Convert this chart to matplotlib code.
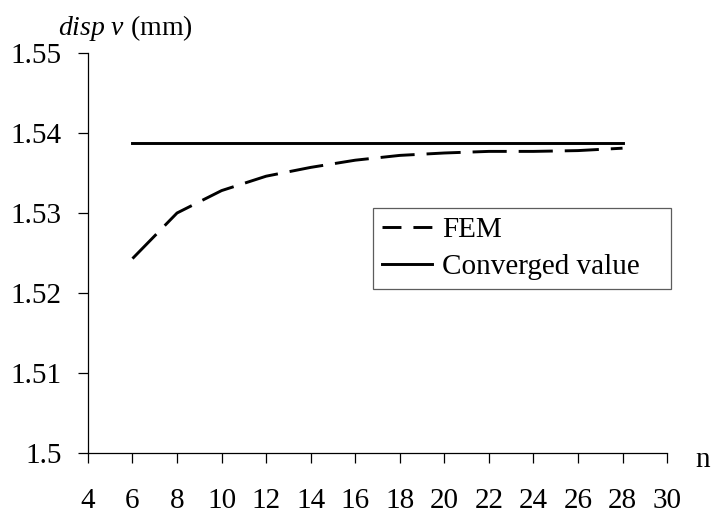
import matplotlib.pyplot as plt
from matplotlib.lines import Line2D

plt.rcParams['font.family'] = ['Liberation Serif', 'DejaVu Serif']
plt.rcParams['mathtext.fontset'] = 'custom'
plt.rcParams['mathtext.it'] = 'Liberation Serif:italic'
plt.rcParams['mathtext.rm'] = 'Liberation Serif'

# mesh density n and the computed vertical displacement (mm)
n_values = [6, 8, 10, 12, 14, 16, 18, 20, 22, 24, 26, 28]
fem_disp = [1.5243, 1.5300, 1.5328, 1.5346, 1.5357, 1.5366, 1.5372,
            1.5375, 1.5377, 1.5377, 1.5378, 1.5381]

# converged reference value
conv_n = [6, 28]
conv_disp = [1.53875, 1.53875]

x_ticks = list(range(4, 31, 2))
y_ticks = [1.5, 1.51, 1.52, 1.53, 1.54, 1.55]
y_tick_labels = ['1.5', '1.51', '1.52', '1.53', '1.54', '1.55']

fig = plt.figure(figsize=(7.15, 5.18), dpi=100)
ax = fig.add_axes([0.123, 0.1255, 0.810, 0.7722])

lw = 2.1
ax.plot(n_values, fem_disp, color='black', lw=lw, dashes=(11.7, 4.1))
ax.plot(conv_n, conv_disp, color='black', lw=lw)

ax.set_xlim(4, 30)
ax.set_ylim(1.5, 1.55)
ax.set_xticks(x_ticks)
ax.set_xticklabels([str(t) for t in x_ticks])
ax.set_yticks(y_ticks)
ax.set_yticklabels(y_tick_labels)

for side in ['top', 'right']:
    ax.spines[side].set_visible(False)
for side in ['left', 'bottom']:
    ax.spines[side].set_linewidth(0.9)
    ax.spines[side].set_color('black')

ax.tick_params(axis='both', direction='out', length=7, width=0.9,
               labelsize=21, colors='black')
ax.tick_params(axis='x', pad=18)
ax.tick_params(axis='y', pad=12)

# axis titles placed at the ends of the axes
fig.text(0.175, 0.945, r'$disp\ v$ (mm)', fontsize=20, ha='center', va='center')
fig.text(0.983, 0.112, 'n', fontsize=21, ha='center', va='center')

# legend with its own handles so the dash pattern reads well at short length
handles = [
    Line2D([], [], color='black', lw=lw, dashes=(6.5, 4.1)),
    Line2D([], [], color='black', lw=lw),
]
leg = ax.legend(handles, ['FEM', 'Converged value'], loc='upper left',
                bbox_to_anchor=(0.492, 0.3025, 0.515, 0.31), mode='expand',
                fontsize=21, frameon=True,
                fancybox=False, handlelength=1.71, handletextpad=0.35,
                labelspacing=0.35, borderpad=0.3, borderaxespad=0)
leg.get_frame().set_edgecolor('#333333')
leg.get_frame().set_linewidth(0.9)

fig.savefig('out.png', dpi=100)
